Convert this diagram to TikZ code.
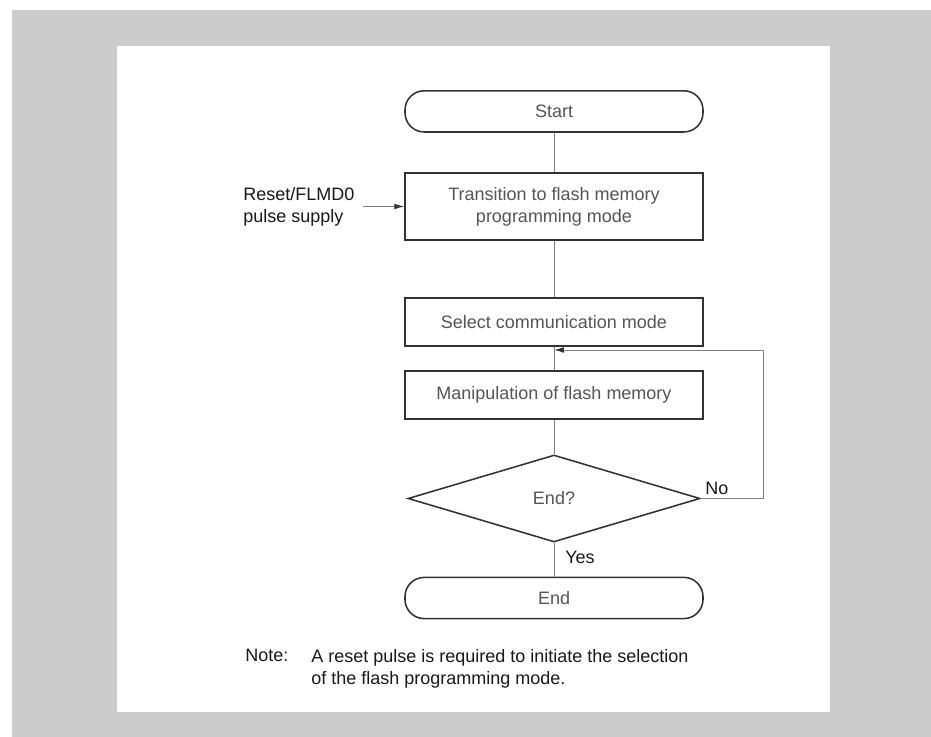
\documentclass[tikz,border=0pt]{standalone}
\usepackage{fontspec}
\setmainfont{Liberation Sans}
\usetikzlibrary{arrows.meta, positioning, shapes.geometric}
\definecolor{framegray}{HTML}{CCCCCC}
\definecolor{boxtext}{HTML}{555555}
\definecolor{wiregray}{HTML}{808080}

\begin{document}
\begin{tikzpicture}[
    box/.style={draw=black!80, line width=1.1pt, minimum width=7.45cm,
                minimum height=1.2cm, text=boxtext, align=center,
                font=\fontsize{12.8}{15.6}\selectfont},
    term/.style={box, minimum height=1.03cm, rounded corners=0.48cm},
    decision/.style={box, diamond, minimum width=7.3cm,
                     minimum height=2.175cm, inner sep=0pt},
    lbl/.style={font=\fontsize{12.8}{15.6}\selectfont, inner sep=0pt,
                text=black!90},
    wire/.style={draw=wiregray, line width=0.7pt},
    >={Latex[length=7pt, width=4pt, color=black!80]}
  ]
  % gray frame and white sheet
  \useasboundingbox (0,0) rectangle (23.275,18.425);
  \fill[framegray] (0.3,0) rectangle (23.275,18.175);
  \fill[white] (2.925,0.625) rectangle (20.75,17.275);

  % Flow steps
  \node[term] (start) at (13.85,15.64) {Start};
  \node[box, minimum height=1.675cm] (trans) at (13.85,13.2625)
    {Transition to flash memory\\programming mode};
  \node[box] (sel) at (13.85,10.375) {Select communication mode};
  \node[box] (manip) at (13.85,8.55) {Manipulation of flash memory};
  \node[decision] (dec) at (13.85,5.9625) {End?};
  \node[term] (fin) at (13.85,3.475) {End};

  % Straight connectors
  \draw[wire] (start) -- (trans);
  \draw[wire] (trans) -- (sel);
  \draw[wire] (sel) -- (manip);
  \draw[wire] (manip) -- (dec);
  \draw[wire] (dec) -- (fin);

  % Retry loop
  \coordinate (join) at (13.85,9.675);
  \draw[wire, ->] (dec.east) -- ++(1.575,0) |- (join);
  \node[lbl, anchor=south west] (no) at (17.625,6.05) {No};
  \node[lbl, anchor=west] (yes) at (14.125,4.5) {Yes};

  % Reset input
  \node[lbl, anchor=west, align=left] (reset) at (6.075,13.2625)
    {Reset/FLMD0\\pulse supply};
  \draw[wire, ->] ([xshift=0.22cm]reset.east) -- (trans.west);

  % Note
  \node[lbl, anchor=west] (notehead) at (6.125,2.03) {Note:};
  \node[lbl, anchor=west, align=left] (notebody) at (7.775,1.7125)
    {A reset pulse is required to initiate the selection\\
     of the flash programming mode.};
\end{tikzpicture}
\end{document}
